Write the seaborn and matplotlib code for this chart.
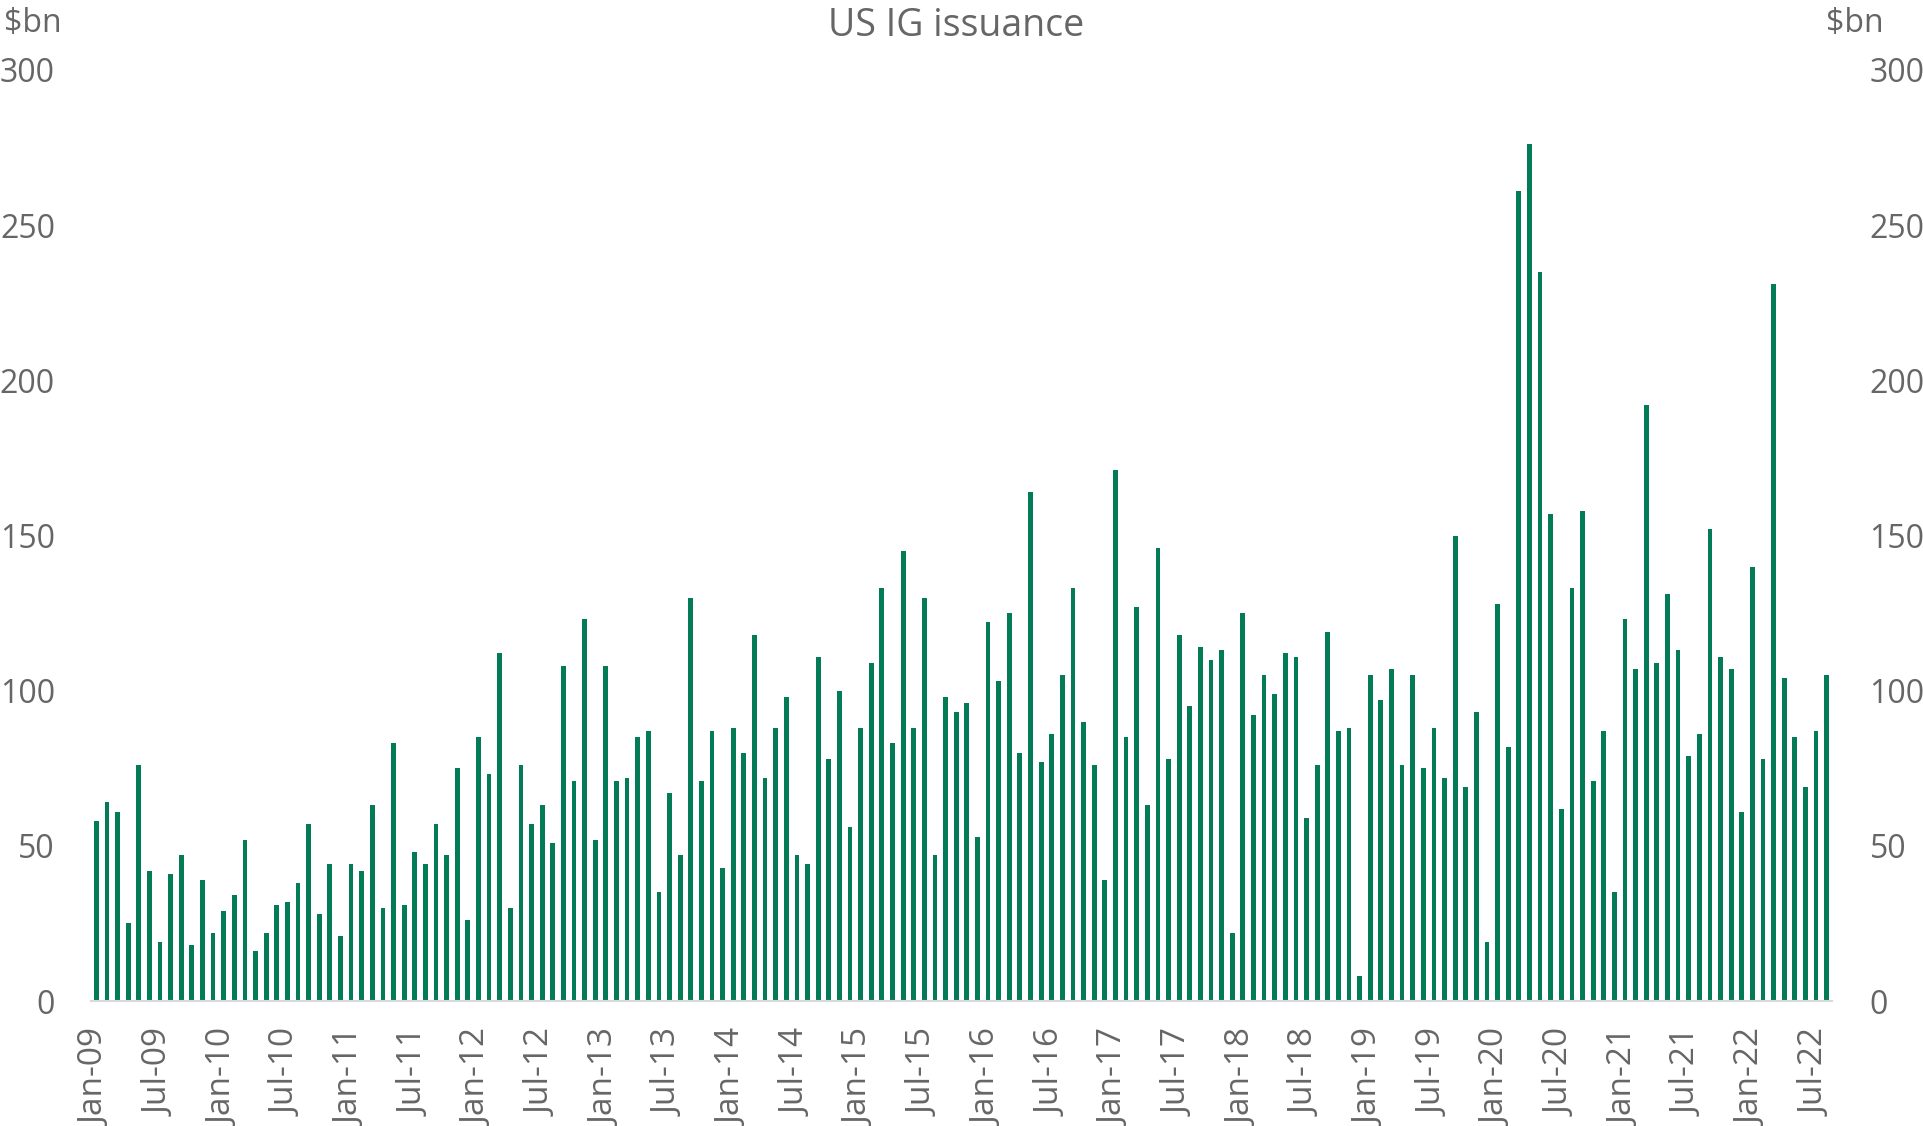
import numpy as np
import pandas as pd
import matplotlib
matplotlib.use("Agg")
import matplotlib.pyplot as plt
import seaborn as sns

# Monthly US IG issuance, $bn, Jan-09 .. Aug-22
values = [
    58, 64, 61, 25, 76, 42, 19, 41, 47, 18, 39, 22,        # 2009
    29, 34, 52, 16, 22, 31, 32, 38, 57, 28, 44, 21,        # 2010
    44, 42, 63, 30, 83, 31, 48, 44, 57, 47, 75, 26,        # 2011
    85, 73, 112, 30, 76, 57, 63, 51, 108, 71, 123, 52,     # 2012
    108, 71, 72, 85, 87, 35, 67, 47, 130, 71, 87, 43,      # 2013
    88, 80, 118, 72, 88, 98, 47, 44, 111, 78, 100, 56,     # 2014
    88, 109, 133, 83, 145, 88, 130, 47, 98, 93, 96, 53,    # 2015
    122, 103, 125, 80, 164, 77, 86, 105, 133, 90, 76, 39,  # 2016
    171, 85, 127, 63, 146, 78, 118, 95, 114, 110, 113, 22, # 2017
    125, 92, 105, 99, 112, 111, 59, 76, 119, 87, 88, 8,    # 2018
    105, 97, 107, 76, 105, 75, 88, 72, 150, 69, 93, 19,    # 2019
    128, 82, 261, 276, 235, 157, 62, 133, 158, 71, 87, 35, # 2020
    123, 107, 192, 109, 131, 113, 79, 86, 152, 111, 107, 61,  # 2021
    140, 78, 231, 104, 85, 69, 87, 105,                    # 2022
]
month_names = ["Jan", "Feb", "Mar", "Apr", "May", "Jun",
               "Jul", "Aug", "Sep", "Oct", "Nov", "Dec"]
months = [f"{month_names[i % 12]}-{9 + i // 12:02d}" for i in range(len(values))]
y_ticks = [0, 50, 100, 150, 200, 250, 300]

df = pd.DataFrame({"month": months, "issuance": values})

sns.set_style("white")
plt.rcParams["font.family"] = ["Open Sans", "DejaVu Sans"]
text_col = "#666666"
bar_col = "#027b56"

fig = plt.figure(figsize=(19.23, 11.26), dpi=100)
ax = fig.add_axes([91 / 1923, 1 - 1001 / 1126, (1832 - 91) / 1923, (1001 - 70) / 1126])

sns.barplot(data=df, x="month", y="issuance", color=bar_col, saturation=1,
            width=0.45, linewidth=0, ax=ax)

ax.set_xlim(-0.5, len(values) - 0.5)
ax.set_ylim(0, 300)
ax.set_xlabel("")
ax.set_ylabel("")

# x axis: labels every 6 months, tick marks between categories
lab_pos = list(range(0, len(values), 6))
ax.set_xticks(lab_pos)
ax.set_xticklabels([months[i] for i in lab_pos], rotation=90, fontsize=24, color=text_col)
ax.set_xticks(np.arange(-0.5, len(values) - 1, 6), minor=True)
ax.tick_params(axis="x", which="major", length=0, pad=20)
ax.tick_params(axis="x", which="minor", length=9, width=1.5, color="#d9d9d9", direction="out")

ax.set_yticks(y_ticks)
ax.set_yticklabels([str(v) for v in y_ticks], fontsize=23, color=text_col)
ax.tick_params(axis="y", length=0, pad=26)

for s in ["top", "right", "left"]:
    ax.spines[s].set_visible(False)
ax.spines["bottom"].set_color("#d9d9d9")
ax.spines["bottom"].set_linewidth(1.5)

ax2 = ax.twinx()
ax2.set_ylim(0, 300)
ax2.set_yticks(y_ticks)
ax2.set_yticklabels([str(v) for v in y_ticks], fontsize=23, color=text_col)
ax2.tick_params(axis="y", length=0, pad=27)
for s in ax2.spines.values():
    s.set_visible(False)

fig.text(956 / 1923, 1 - 26 / 1126, "US IG issuance", ha="center", va="center",
         fontsize=27, color=text_col)
fig.text(4 / 1923, 1 - 24 / 1126, "$bn", ha="left", va="center", fontsize=23, color=text_col)
fig.text(1826 / 1923, 1 - 24 / 1126, "$bn", ha="left", va="center", fontsize=23, color=text_col)

fig.savefig("out.png", dpi=100)
